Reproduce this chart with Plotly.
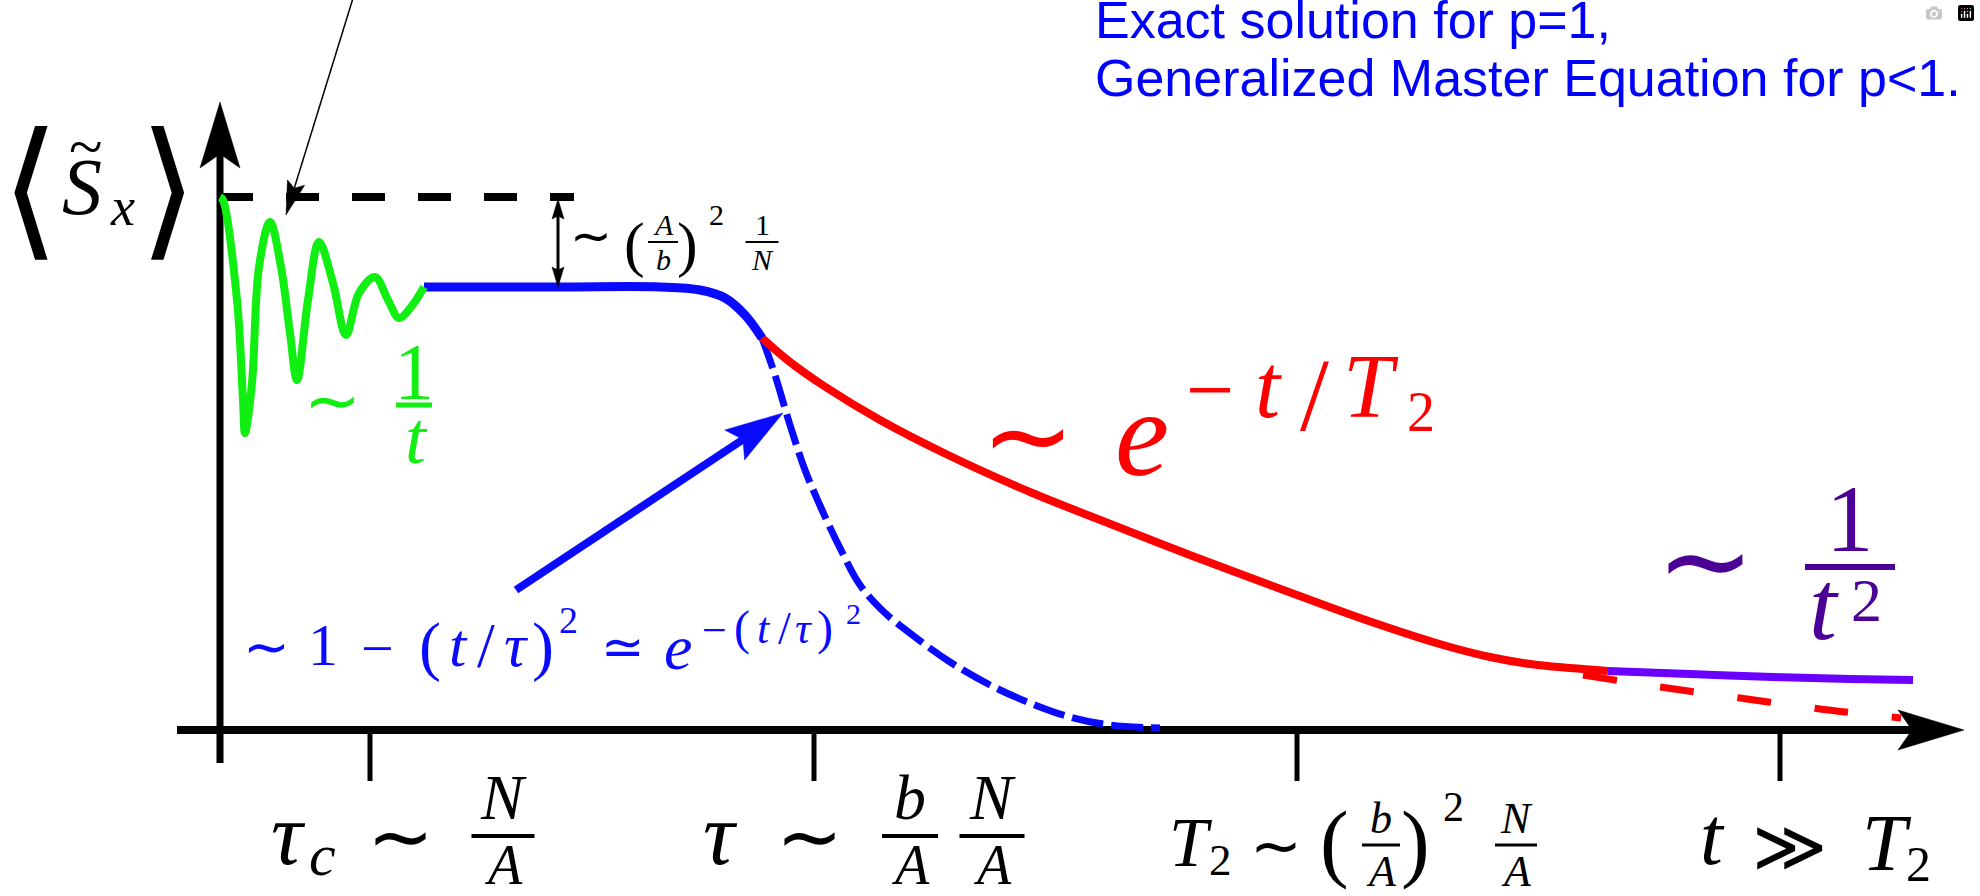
import math
import plotly.graph_objects as go

# ---------------- schematic data (screen units of the picture, y grows downward) ----------------
green_t = [220, 223, 237, 243, 245, 252, 259, 270, 281, 290, 297, 308, 319, 333, 346, 359, 375, 388, 399, 411, 424]
green_s = [197, 200, 300, 400, 433, 383, 267, 222, 267, 333, 380, 300, 242, 283, 335, 293, 277, 300, 318, 307, 287]

plateau_t = [424, 560, 660, 700, 725, 745, 762]
plateau_s = [287, 287, 287, 290, 298, 315, 338]

gauss_t = [762, 775, 790, 805, 822, 840, 860, 884, 915, 950, 990, 1030, 1070, 1110, 1160]
gauss_s = [338, 375, 425, 470, 510, 548, 585, 612, 637, 662, 685, 703, 717, 725, 728]

expo_t = [762, 790, 824, 880, 948, 1030, 1113, 1195, 1278, 1360, 1443, 1490, 1530, 1570, 1608]
expo_s = [338, 362, 386, 420, 455, 492, 525, 557, 588, 618, 645, 657, 664, 668, 671]

power_t = [1608, 1690, 1773, 1850, 1913]
power_s = [671, 674, 677, 679, 680]

expo_tail_t = [1583, 1660, 1740, 1820, 1901]
expo_tail_s = [675, 687, 698, 709, 718]

initial_level = 197           # dashed reference level
plateau_level = 287
axis_origin = (220, 730)
ticks_t = [370, 814, 1297, 1780]

SERIF = "Liberation Serif, DejaVu Serif, serif"
SANS = "Liberation Sans, Arial, sans-serif"
MATHSYM = "DejaVu Sans, DejaVu Serif, sans-serif"

fig = go.Figure()


def line(xs, ys, color, width, dash="solid", shape="linear"):
    fig.add_trace(go.Scatter(x=xs, y=ys, mode="lines", hoverinfo="skip",
                             line=dict(color=color, width=width, dash=dash, shape=shape)))


def arrow(tail, tip, color, width, head_len, half_w, indent, both=False):
    def head(p_from, p_tip):
        dx, dy = p_tip[0] - p_from[0], p_tip[1] - p_from[1]
        L = math.hypot(dx, dy)
        ux, uy = dx / L, dy / L
        px, py = -uy, ux
        bx, by = p_tip[0] - ux * head_len, p_tip[1] - uy * head_len
        ix, iy = p_tip[0] - ux * (head_len - indent), p_tip[1] - uy * (head_len - indent)
        xs = [p_tip[0], bx + px * half_w, ix, bx - px * half_w, p_tip[0]]
        ys = [p_tip[1], by + py * half_w, iy, by - py * half_w, p_tip[1]]
        fig.add_trace(go.Scatter(x=xs, y=ys, mode="lines", fill="toself", fillcolor=color,
                                 line=dict(color=color, width=0.5), hoverinfo="skip"))
        return (ix, iy)

    end = head(tail, tip)
    start = head(tip, tail) if both else tail
    line([start[0], end[0]], [start[1], end[1]], color, width)


def T(x, y, s, size, color="black", xa="center", ya="middle", family=SERIF):
    fig.add_annotation(x=x, y=y, xref="x", yref="y", text=s, showarrow=False,
                       xanchor=xa, yanchor=ya, borderpad=0,
                       font=dict(size=size, color=color, family=family))


def bar(xc, y, w, color, lw):
    fig.add_shape(type="line", xref="x", yref="y", x0=xc - w / 2, x1=xc + w / 2, y0=y, y1=y,
                  line=dict(color=color, width=lw))


def frac(xc, ybar, num, den, size, color, w, lw, gap, dsize=None, dgap=None):
    T(xc, ybar - gap, num, size, color, ya="bottom")
    T(xc, ybar + (gap if dgap is None else dgap), den, dsize or size, color, ya="top")
    bar(xc, ybar, w, color, lw)


# ---------------- axes ----------------
ox, oy = axis_origin
arrow((ox, 763), (ox, 102), "black", 7, 66, 20, 14)
arrow((177, oy), (1964, oy), "black", 8, 66, 20, 14)
for tk in ticks_t:
    line([tk, tk], [oy, 781], "black", 5)

# ---------------- curves ----------------
line([ox, 574], [initial_level, initial_level], "black", 8, dash="33px,33px")
line(gauss_t, gauss_s, "#0a0aff", 7, dash="32px,8px", shape="spline")
line(expo_tail_t, expo_tail_s, "#ff0000", 7, dash="34px,44px", shape="spline")
line(expo_t, expo_s, "#ff0000", 8, shape="spline")
line(power_t, power_s, "#6a00ff", 8, shape="spline")
line(plateau_t, plateau_s, "#0a0aff", 9, shape="spline")
line(green_t, green_s, "#11ee11", 8, shape="spline")

# arrows
arrow((354, -5), (286, 215), "black", 1.5, 34, 9, 6)
arrow((558, initial_level + 2), (558, plateau_level), "black", 3, 20, 6, 3, both=True)
arrow((516, 590), (783, 413), "#0a0aff", 8, 58, 18, 10)

# ---------------- labels ----------------
# y-axis label <S~_x>
T(30, 188, "⟨", 150, family=MATHSYM)
T(168, 188, "⟩", 150, family=MATHSYM)
T(82, 187, "<i>S</i>", 80)
T(86, 146, "~", 62)
T(122, 207, "<i>x</i>", 54)

# gap label ~ (A/b)^2 1/N
T(591, 236, "∼", 50, family=MATHSYM)
T(634, 244, "(", 62)
frac(663, 242, "<i>A</i>", "<i>b</i>", 30, "black", 30, 2, 0)
T(687, 244, ")", 62)
T(716, 214, "2", 30)
frac(762, 242, "1", "<i>N</i>", 30, "black", 33, 2, 0)

# green ~ 1/t
G = "#11ee11"
T(332, 400, "∼", 68, G, family=MATHSYM)
T(414, 372, "1", 80, G)
bar(414, 405, 36, G, 5)
T(416, 437, "<i>t</i>", 75, G)

# red ~ e^{-t/T2}
R = "#ff0000"
T(1028, 435, "∼", 112, R, family=MATHSYM)
T(1142, 433, "<i>e</i>", 122, R)
T(1210, 390, "−", 86, R)
T(1268, 386, "<i>t</i>", 90, R)
T(1314, 394, "/", 104, R)
T(1371, 386, "<i>T</i>", 90, R)
T(1421, 412, "2", 56, R)

# purple ~ 1/t^2
P = "#4b0096"
T(1705, 560, "∼", 118, P, family=MATHSYM)
T(1850, 519, "1", 95, P)
bar(1850, 567, 90, P, 6)
T(1824, 605, "<i>t</i>", 100, P)
T(1866, 600, "2", 62, P)

# blue formula
B = "#0a0aff"
T(266, 646, "∼", 56, B, family=MATHSYM)
T(323, 645, "1", 60, B)
T(377, 648, "−", 58, B)
T(430, 646, "(", 66, B)
T(458, 645, "<i>t</i>", 62, B)
T(486, 645, "/", 64, B)
T(516, 645, "<i>τ</i>", 62, B)
T(543, 646, ")", 66, B)
T(568, 620, "2", 38, B)
T(623, 647, "≃", 52, B, family=MATHSYM)
T(678, 647, "<i>e</i>", 64, B)
T(714, 630, "−", 44, B)
T(742, 628, "(", 48, B)
T(764, 628, "<i>t</i>", 44, B)
T(784, 628, "/", 46, B)
T(804, 628, "<i>τ</i>", 44, B)
T(825, 628, ")", 48, B)
T(853, 613, "2", 30, B)

# tick labels
T(288, 834, "<i>τ</i>", 88)
T(322, 855, "<i>c</i>", 60)
T(400, 836, "∼", 80, family=MATHSYM)
frac(503, 836, "<i>N</i>", "<i>A</i>", 64, "black", 63, 4, 2, dsize=56, dgap=-3)

T(720, 834, "<i>τ</i>", 88)
T(809, 836, "∼", 80, family=MATHSYM)
frac(910, 836, "<i>b</i>", "<i>A</i>", 64, "black", 56, 4, 2, dsize=56, dgap=-3)
frac(992, 836, "<i>N</i>", "<i>A</i>", 64, "black", 65, 4, 2, dsize=56, dgap=-3)

T(1191, 842, "<i>T</i>", 70)
T(1220, 860, "2", 45)
T(1276, 845, "∼", 62, family=MATHSYM)
T(1334, 842, "(", 86)
frac(1381, 845, "<i>b</i>", "<i>A</i>", 44, "black", 38, 3, 1)
T(1415, 842, ")", 86)
T(1453, 807, "2", 42)
frac(1516, 845, "<i>N</i>", "<i>A</i>", 44, "black", 42, 3, 1)

T(1712, 836, "<i>t</i>", 82)
T(1789, 846, "≫", 72, family=MATHSYM)
T(1887, 843, "<i>T</i>", 80)
T(1918, 864, "2", 50)

# note at top right
T(1094, 20, "Exact solution for p=1,", 52, "#0000ff", xa="left", family=SANS)
T(1094, 78, "Generalized Master Equation for p<1.", 52, "#0000ff", xa="left", family=SANS)

fig.update_layout(
    width=1980, height=896, margin=dict(l=0, r=0, t=0, b=0),
    paper_bgcolor="white", plot_bgcolor="white", showlegend=False,
    xaxis=dict(range=[0, 1980], visible=False, fixedrange=True),
    yaxis=dict(range=[896, 0], visible=False, fixedrange=True),
)
fig.write_html("out.html", post_script="document.body.style.margin='0';document.body.style.overflow='hidden';")
